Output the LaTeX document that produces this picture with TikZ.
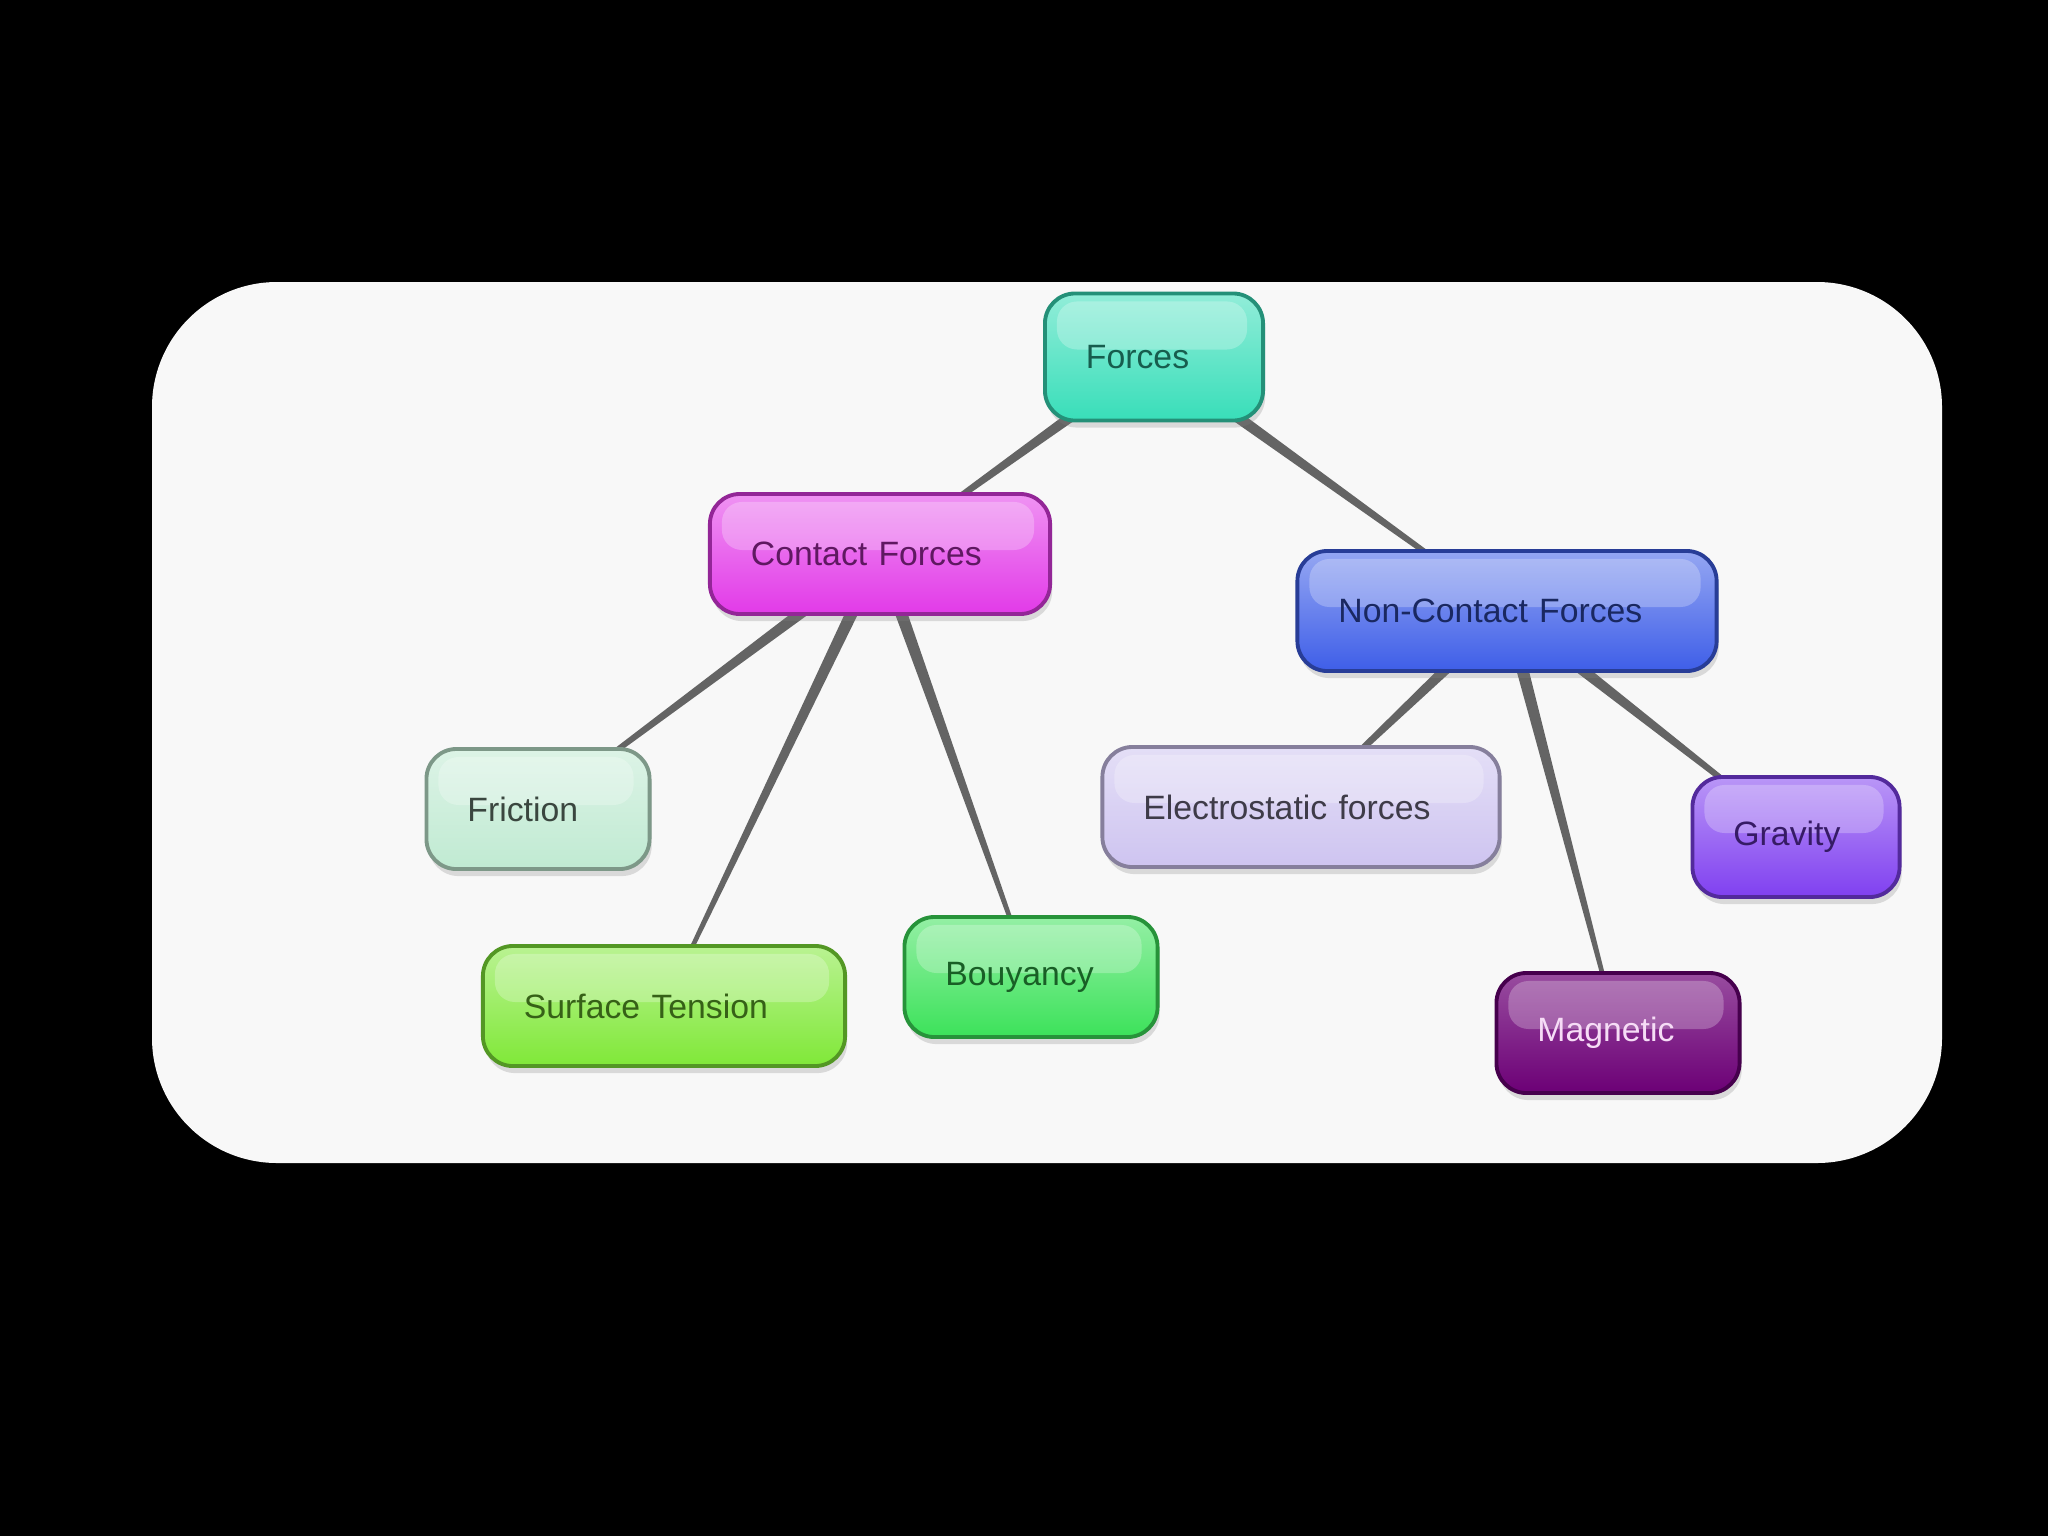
\documentclass[tikz,border=0pt]{standalone}
\usepackage{fontspec}
\setmainfont{Liberation Sans}
\usetikzlibrary{calc, shadows, backgrounds}
\definecolor{panelwhite}{RGB}{248,248,248}
\definecolor{linkgray}{RGB}{85,85,85}
\definecolor{forcescol}{RGB}{56,222,185}
\definecolor{contactcol}{RGB}{226,58,232}
\definecolor{noncontactcol}{RGB}{62,94,232}
\definecolor{frictioncol}{RGB}{192,234,210}
\definecolor{surfacecol}{RGB}{128,232,56}
\definecolor{bouyancycol}{RGB}{60,226,90}
\definecolor{electrocol}{RGB}{206,196,240}
\definecolor{gravitycol}{RGB}{128,64,240}
\definecolor{magneticcol}{RGB}{108,0,118}

\begin{document}
\begin{tikzpicture}[
        x=0.01cm, y=-0.01cm,
        box/.style={rectangle, rounded corners=0.3cm, draw, line width=1.1pt, align=left, minimum height=1.2cm, inner xsep=0.41cm, font=\fontsize{9.6}{11}\selectfont,
            drop shadow={opacity=0.25, shadow xshift=0.6pt, shadow yshift=-2pt},
            path picture={\fill[white, opacity=0.25, rounded corners=0.2cm] ([xshift=0.12cm, yshift=-0.08cm]path picture bounding box.north west) rectangle ([xshift=-0.16cm, yshift=-0.56cm]path picture bounding box.north east);}},
        tone/.style={top color=#1!55!white, bottom color=#1, draw=#1!65!black, text=#1!42!black},
        link/.style={fill=linkgray, fill opacity=0.9}
        ]

        % Nodes
        \node (forces) [box, tone=forcescol, text width=1.36cm, minimum height=1.27cm] at (1154,357) {Forces};
        \node (contact) [box, tone=contactcol, text width=2.58cm] at (880,554) {Contact Forces};
        \node (noncontact) [box, tone=noncontactcol, text width=3.37cm] at (1507,611) {Non-Contact Forces};
        \node (friction) [box, tone=frictioncol, text=frictioncol!30!black, text width=1.41cm] at (538,809) {Friction};
        \node (surface) [box, tone=surfacecol, text width=2.80cm] at (664,1006) {Surface Tension};
        \node (bouyancy) [box, tone=bouyancycol, text width=1.71cm] at (1031,977) {Bouyancy};
        \node (electro) [box, tone=electrocol, text=electrocol!30!black, text width=3.15cm] at (1301,807) {Electrostatic forces};
        \node (gravity) [box, tone=gravitycol, text width=1.25cm] at (1796,837) {Gravity};
        \node (magnetic) [box, tone=magneticcol, top color=magneticcol!70!white, text={rgb,255:red,246;green,220;blue,246}, text width=1.61cm] at (1618,1033) {Magnetic};

        % Frame and links (tapered, behind the boxes)
        \begin{scope}[on background layer]
            \fill[black] (0,0) rectangle (2048,1536);
            \fill[panelwhite, rounded corners=1.25cm] (152,282) rectangle (1942,1163);
            \foreach \p/\c in {forces/contact, forces/noncontact, contact/friction, contact/surface, contact/bouyancy, noncontact/electro, noncontact/magnetic, noncontact/gravity}
                \fill[link] ($(\p.center)!1.9pt!90:(\c.center)$) -- ($(\p.center)!1.9pt!-90:(\c.center)$) -- ($(\c.center)!0.45pt!90:(\p.center)$) -- ($(\c.center)!0.45pt!-90:(\p.center)$) -- cycle;
        \end{scope}

    \end{tikzpicture}
\end{document}
